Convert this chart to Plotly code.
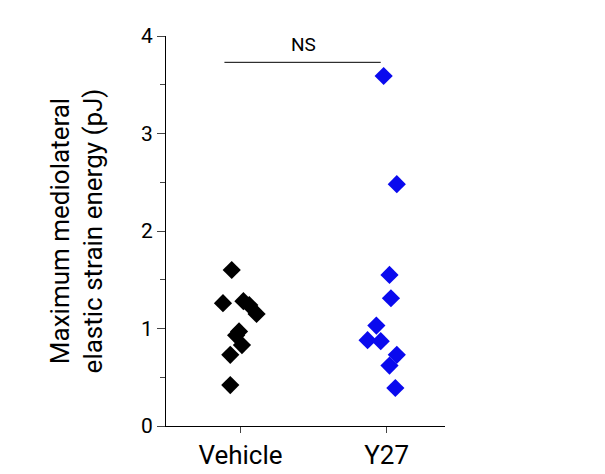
import plotly.graph_objects as go

# ---- data ----
groups = ["Vehicle", "Y27"]
vehicle_x = [0.94, 0.88, 1.02, 1.06, 1.11, 0.99, 0.97, 1.01, 0.93, 0.93]
vehicle_y = [1.60, 1.26, 1.28, 1.24, 1.15, 0.97, 0.93, 0.83, 0.73, 0.42]
y27_x = [1.98, 2.07, 2.02, 2.03, 1.93, 1.87, 1.96, 2.07, 2.02, 2.06]
y27_y = [3.59, 2.48, 1.55, 1.31, 1.03, 0.88, 0.87, 0.73, 0.62, 0.39]
sig_label = "NS"
sig_y = 3.73

fig = go.Figure()
fig.add_trace(go.Scatter(x=vehicle_x, y=vehicle_y, mode="markers",
                         marker=dict(symbol="diamond", size=14, color="black")))
fig.add_trace(go.Scatter(x=y27_x, y=y27_y, mode="markers",
                         marker=dict(symbol="diamond", size=14, color="#0a0aee")))

fig.add_shape(type="line", x0=0.89, x1=1.96, y0=sig_y, y1=sig_y,
              line=dict(color="black", width=1))
fig.add_annotation(x=1.43, y=sig_y, text=sig_label, showarrow=False,
                   yanchor="bottom", yshift=4, font=dict(size=19))

fig.update_layout(
    width=605, height=474,
    margin=dict(l=158, r=168, t=28, b=56),
    plot_bgcolor="white", paper_bgcolor="white",
    showlegend=False,
    font=dict(family="Roboto, Arial, sans-serif", size=20, color="black"),
    xaxis=dict(range=[0.49, 2.4], tickvals=[1, 2], ticktext=groups,
               showline=True, linecolor="black", linewidth=1,
               ticks="outside", ticklen=6, showgrid=False, zeroline=False,
               tickfont=dict(size=26)),
    yaxis=dict(range=[0, 4], tickvals=[0, 1, 2, 3, 4],
               showline=True, linecolor="black", linewidth=1,
               ticks="outside", ticklen=8, showgrid=False, zeroline=False,
               tickfont=dict(size=21),
               minor=dict(tickvals=[0.5, 1.5, 2.5, 3.5], ticks="outside", ticklen=5),
               title=dict(text="Maximum mediolateral<br>elastic strain energy (pJ)",
                          font=dict(size=26), standoff=30)),
)

fig.write_html("out.html")
